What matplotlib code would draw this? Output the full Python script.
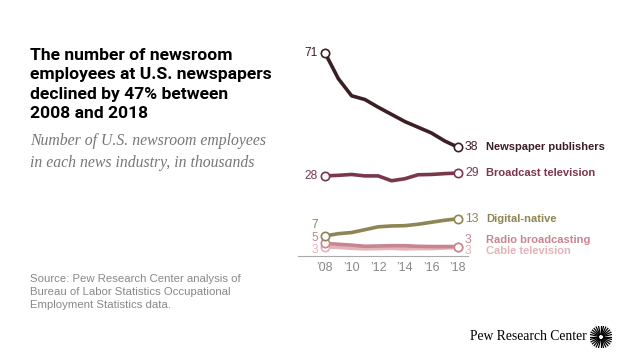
import numpy as np
import matplotlib
matplotlib.use("Agg")
import matplotlib.pyplot as plt

W, H = 640, 360

years = [2008, 2009, 2010, 2011, 2012, 2013, 2014, 2015, 2016, 2017, 2018]
newspaper = [71, 62, 56, 54.7, 52, 49.5, 47, 45, 43, 40.2, 38]
broadcast = [28, 28.2, 28.5, 28, 28, 26.3, 27, 28.4, 28.5, 28.8, 29]
digital = [7, 7.8, 8.2, 9.2, 10.2, 10.5, 10.6, 11.1, 11.8, 12.5, 13]
radio = [4.4, 4.1, 3.8, 3.4, 3.5, 3.6, 3.6, 3.4, 3.3, 3.3, 3.3]
cable = [3.2, 3.0, 2.7, 2.5, 2.6, 2.7, 2.5, 2.6, 2.6, 2.8, 3.0]

series_names = ["Newspaper publishers", "Broadcast television", "Digital-native",
                "Radio broadcasting", "Cable television"]
series_values = [newspaper, broadcast, digital, radio, cable]
start_labels = ["71", "28", "7", "5", "3"]
end_labels = ["38", "29", "13", "3", "3"]
colors = ["#3b1f25", "#7a3749", "#8e8552", "#c8858f", "#e2b3ba"]

tick_years = [2008, 2010, 2012, 2014, 2016, 2018]
tick_labels = ["\u201908", "\u201910", "\u201912", "\u201914", "\u201916", "\u201918"]

fig = plt.figure(figsize=(W / 100, H / 100), dpi=100)

# axes placed in pixel terms: x from 298 to 468, y from 40 to 256
ax = fig.add_axes([298 / W, 1 - 256 / H, 170 / W, 216 / H])
ax.set_xlim(2005.97, 2018.75)
ax.set_ylim(0, 75.5)

for vals, col in reversed(list(zip(series_values, colors))):
    ax.plot(years, vals, color=col, lw=2.6, solid_capstyle="round", zorder=2)
    ax.plot([years[0], years[-1]], [vals[0], vals[-1]], ls="none", marker="o",
            ms=6, mfc="white", mec=col, mew=1.2, zorder=3)

for s in ["top", "right", "left"]:
    ax.spines[s].set_visible(False)
ax.spines["bottom"].set_color("#aaaaaa")
ax.spines["bottom"].set_linewidth(0.8)
ax.set_yticks([])
ax.set_xticks(tick_years)
ax.set_xticklabels(tick_labels, color="#888888", fontsize=9, family="Liberation Sans")
ax.tick_params(axis="x", length=0, pad=4)

# start labels (left side)
start_offsets = [0, 0, 4.0, 1.9, -1.1]
for lab, vals, col, off in zip(start_labels, series_values, colors, start_offsets):
    ax.annotate(lab, (years[0], vals[0] + off), xytext=(-5, 0), textcoords="offset points",
                ha="right", va="center", color=col, fontsize=8.6, family="Liberation Sans")

# end labels (right side)
end_offsets = [0, 0, 0, 2.2, -1.2]
for lab, name, vals, col, off in zip(end_labels, series_names, series_values, colors, end_offsets):
    y = vals[-1] + off
    ax.annotate(lab, (years[-1], y), xytext=(5, 0), textcoords="offset points",
                ha="left", va="center", color=col, fontsize=8.8, family="Liberation Sans",
                annotation_clip=False)
    ax.annotate(name, (years[-1], y), xytext=(20, 0), textcoords="offset points",
                ha="left", va="center", color=col, fontsize=8.0, fontweight="bold",
                family="Liberation Sans", annotation_clip=False)

# title and subtitle
fig.text(30 / W, 1 - 48 / H,
         "The number of newsroom\nemployees at U.S. newspapers\ndeclined by 47% between\n2008 and 2018",
         ha="left", va="top", fontsize=12.6, fontweight="bold", family="Roboto",
         linespacing=1.37, color="black")
fig.text(30 / W, 1 - 133 / H,
         "Number of U.S. newsroom employees\nin each news industry, in thousands",
         ha="left", va="top", fontsize=11.3, style="italic", family="Liberation Serif",
         color="#777777", linespacing=1.5)

# source
fig.text(30 / W, 1 - 274 / H,
         "Source: Pew Research Center analysis of\nBureau of Labor Statistics Occupational\nEmployment Statistics data.",
         ha="left", va="top", fontsize=8.2, family="Liberation Sans", color="#888888",
         linespacing=1.4)

# logo
fig.text(587 / W, 1 - 337 / H, "Pew Research Center", ha="right", va="center",
         fontsize=9.8, family="Liberation Serif", color="black")
lax = fig.add_axes([590 / W, 1 - 348 / H, 22 / W, 22 / H])
lax.set_xlim(-1, 1)
lax.set_ylim(-1, 1)
lax.axis("off")
for a in np.linspace(0, 2 * np.pi, 28, endpoint=False):
    lax.plot([0.25 * np.cos(a), np.cos(a)], [0.25 * np.sin(a), np.sin(a)],
             color="black", lw=0.9)

fig.savefig("out.png", dpi=100)
